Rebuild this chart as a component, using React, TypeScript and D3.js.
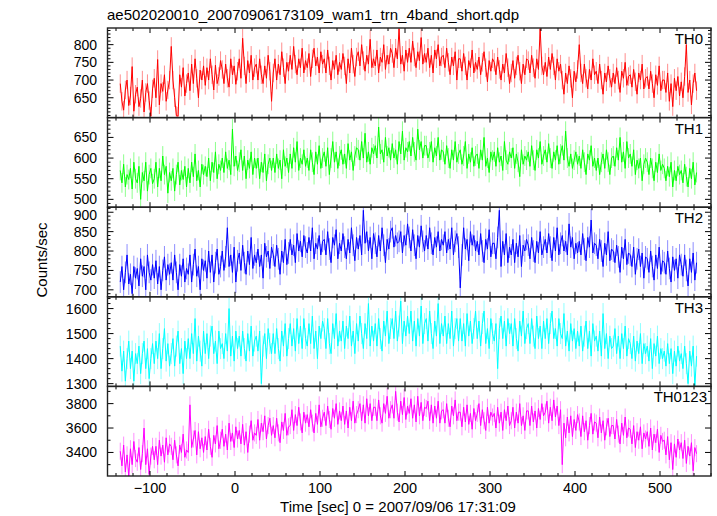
import React from "react";
import * as d3 from "d3";

const TITLE = "ae502020010_20070906173109_wam1_trn_4band_short.qdp";
const X_LABEL = "Time [sec] 0 = 2007/09/06 17:31:09";
const Y_LABEL = "Counts/sec";

// time grid: first bin and bin width (sec)
const T0 = -135;
const DT = 2;

const TH0 = [
  690, 640, 615, 672, 700, 628, 655, 738, 612, 660,
  680, 625, 648, 700, 610, 665, 690, 642, 598, 675,
  705, 650, 758, 630, 690, 668, 715, 640, 672, 700,
  795, 700, 650, 600, 598, 715, 680, 735, 655, 690,
  720, 670, 745, 690, 760, 705, 650, 728, 700, 740,
  685, 735, 700, 760, 715, 672, 742, 690, 710, 755,
  730, 690, 745, 705, 680, 760, 715, 740, 688, 725,
  760, 705, 818, 740, 690, 755, 720, 770, 700, 735,
  745, 700, 760, 715, 690, 740, 705, 770, 725, 640,
  720, 760, 700, 745, 715, 780, 735, 690, 750, 725,
  770, 730, 795, 745, 715, 760, 735, 790, 720, 755,
  735, 775, 710, 760, 790, 740, 765, 720, 780, 745,
  760, 720, 785, 740, 700, 755, 730, 770, 715, 750,
  730, 775, 740, 690, 760, 720, 790, 745, 710, 765,
  780, 740, 800, 755, 725, 770, 745, 815, 735, 760,
  740, 785, 720, 765, 750, 800, 730, 770, 745, 790,
  775, 735, 790, 760, 845, 745, 770, 725, 785, 750,
  790, 750, 810, 765, 735, 780, 755, 820, 745, 775,
  750, 790, 735, 770, 720, 785, 760, 800, 740, 765,
  770, 735, 790, 750, 715, 765, 740, 780, 700, 760,
  760, 725, 775, 740, 700, 755, 735, 785, 720, 750,
  730, 765, 715, 750, 780, 735, 695, 755, 725, 760,
  750, 715, 765, 730, 700, 745, 720, 775, 735, 690,
  720, 755, 705, 740, 770, 725, 690, 745, 715, 760,
  755, 720, 770, 735, 705, 760, 730, 845, 740, 715,
  750, 710, 765, 730, 775, 740, 700, 760, 725, 745,
  700, 660, 720, 690, 740, 705, 650, 725, 695, 730,
  800, 720, 690, 745, 705, 675, 730, 700, 760, 715,
  725, 690, 745, 700, 660, 720, 695, 740, 705, 680,
  720, 690, 735, 700, 665, 725, 705, 750, 685, 710,
  715, 680, 730, 695, 660, 720, 700, 745, 675, 705,
  710, 675, 725, 690, 650, 715, 685, 740, 670, 700,
  700, 665, 720, 640, 690, 625, 705, 670, 710, 655,
  695, 650, 710, 800, 665, 700, 630, 690, 720, 670,
];

const TH1 = [
  570, 540, 585, 530, 560, 548, 575, 525, 590, 550,
  540, 580, 500, 565, 545, 590, 520, 560, 575, 538,
  550, 590, 530, 575, 545, 605, 560, 580, 515, 565,
  545, 575, 520, 560, 590, 535, 570, 548, 580, 530,
  575, 540, 590, 555, 610, 545, 570, 530, 585, 560,
  580, 555, 600, 545, 590, 565, 615, 550, 585, 570,
  600, 565, 615, 575, 595, 560, 670, 580, 605, 570,
  590, 620, 570, 605, 550, 595, 575, 615, 560, 600,
  575, 600, 550, 590, 565, 610, 545, 585, 600, 570,
  600, 565, 610, 575, 595, 550, 620, 580, 600, 565,
  610, 575, 625, 590, 640, 570, 600, 585, 620, 580,
  600, 570, 620, 590, 560, 615, 585, 630, 575, 600,
  615, 580, 625, 560, 600, 640, 590, 615, 575, 605,
  620, 585, 610, 575, 635, 595, 615, 570, 605, 625,
  620, 595, 640, 600, 660, 590, 615, 585, 625, 610,
  630, 600, 675, 610, 620, 590, 650, 605, 625, 595,
  635, 600, 620, 585, 640, 610, 665, 595, 625, 615,
  640, 605, 650, 615, 595, 670, 620, 640, 600, 630,
  630, 600, 615, 640, 590, 625, 605, 650, 595, 620,
  615, 585, 630, 600, 575, 620, 595, 640, 590, 610,
  620, 585, 605, 640, 575, 610, 590, 625, 580, 605,
  610, 575, 620, 595, 650, 580, 600, 565, 615, 595,
  615, 580, 625, 590, 605, 570, 640, 595, 585, 615,
  600, 625, 575, 610, 590, 555, 620, 585, 605, 595,
  615, 580, 630, 595, 570, 620, 600, 640, 585, 605,
  620, 590, 635, 600, 575, 615, 595, 630, 585, 610,
  630, 595, 665, 600, 580, 610, 575, 595, 615, 585,
  605, 575, 620, 590, 560, 610, 595, 630, 580, 600,
  570, 600, 560, 590, 610, 575, 620, 590, 560, 600,
  605, 580, 625, 595, 650, 590, 615, 575, 640, 600,
  610, 580, 620, 560, 595, 575, 600, 545, 585, 600,
  590, 560, 600, 575, 545, 590, 565, 610, 570, 585,
  575, 545, 580, 555, 590, 530, 570, 545, 580, 560,
  570, 540, 585, 555, 530, 575, 550, 590, 535, 565,
];

const TH2 = [
  720, 760, 700, 745, 790, 715, 740, 690, 760, 730,
  755, 710, 780, 735, 760, 700, 790, 745, 725, 765,
  730, 775, 715, 760, 700, 750, 785, 725, 765, 740,
  770, 725, 790, 745, 700, 765, 735, 780, 720, 755,
  740, 790, 720, 765, 805, 735, 760, 700, 780, 750,
  775, 730, 800, 745, 790, 720, 770, 805, 740, 760,
  800, 750, 785, 860, 760, 790, 745, 810, 720, 775,
  795, 750, 815, 770, 740, 800, 765, 835, 755, 790,
  770, 805, 760, 790, 730, 820, 785, 800, 755, 810,
  790, 760, 815, 780, 740, 800, 770, 830, 765, 795,
  830, 790, 815, 770, 845, 800, 825, 785, 840, 810,
  795, 835, 800, 860, 780, 820, 805, 840, 790, 825,
  830, 790, 850, 805, 770, 835, 815, 855, 780, 820,
  800, 845, 810, 780, 830, 795, 860, 815, 775, 835,
  805, 840, 790, 905, 820, 850, 800, 835, 780, 845,
  820, 785, 840, 800, 860, 815, 770, 830, 805, 850,
  860, 810, 840, 820, 825, 850, 795, 840, 815, 870,
  835, 800, 855, 815, 780, 840, 810, 865, 825, 800,
  840, 805, 860, 820, 790, 835, 810, 850, 800, 830,
  815, 850, 795, 830, 805, 860, 790, 825, 845, 810,
  705, 790, 860, 805, 830, 775, 850, 815, 840, 800,
  825, 790, 845, 800, 770, 830, 805, 855, 785, 820,
  820, 780, 835, 905, 760, 825, 790, 845, 770, 810,
  790, 830, 770, 820, 785, 840, 760, 815, 800, 830,
  815, 780, 835, 800, 770, 825, 795, 850, 790, 810,
  830, 795, 845, 810, 775, 835, 800, 860, 790, 820,
  840, 800, 825, 790, 870, 810, 835, 780, 820, 795,
  825, 790, 845, 805, 775, 835, 810, 880, 795, 820,
  815, 780, 830, 800, 760, 820, 790, 850, 775, 805,
  800, 770, 815, 785, 745, 810, 780, 830, 765, 795,
  790, 760, 810, 740, 780, 805, 760, 795, 730, 785,
  780, 745, 800, 760, 725, 790, 755, 810, 740, 775,
  770, 740, 800, 755, 720, 785, 750, 780, 730, 790,
  765, 735, 790, 750, 710, 780, 745, 795, 725, 770,
];

const TH3 = [
  1450, 1350, 1430, 1310, 1400, 1470, 1360, 1430, 1310, 1420,
  1380, 1450, 1340, 1420, 1470, 1360, 1440, 1320, 1400, 1460,
  1380, 1470, 1400, 1500, 1360, 1440, 1520, 1390, 1460, 1370,
  1420, 1480, 1370, 1450, 1510, 1380, 1440, 1340, 1470, 1400,
  1480, 1400, 1500, 1420, 1560, 1390, 1490, 1430, 1370, 1510,
  1420, 1500, 1400, 1490, 1530, 1420, 1470, 1380, 1510, 1440,
  1460, 1400, 1500, 1430, 1600, 1410, 1490, 1390, 1510, 1440,
  1490, 1410, 1510, 1440, 1390, 1500, 1430, 1530, 1410, 1470,
  1490, 1430, 1510, 1300, 1450, 1500, 1400, 1520, 1460, 1420,
  1500, 1420, 1520, 1440, 1390, 1510, 1450, 1540, 1410, 1480,
  1540, 1450, 1520, 1430, 1560, 1460, 1530, 1440, 1560, 1480,
  1450, 1540, 1460, 1570, 1440, 1510, 1400, 1530, 1480, 1550,
  1520, 1440, 1560, 1460, 1420, 1540, 1480, 1580, 1450, 1510,
  1470, 1550, 1440, 1530, 1480, 1570, 1450, 1510, 1420, 1540,
  1470, 1570, 1500, 1440, 1540, 1480, 1620, 1450, 1530, 1470,
  1540, 1450, 1560, 1480, 1430, 1550, 1490, 1590, 1460, 1520,
  1560, 1480, 1590, 1470, 1530, 1630, 1460, 1550, 1490, 1570,
  1500, 1590, 1470, 1550, 1450, 1560, 1490, 1610, 1460, 1540,
  1560, 1470, 1590, 1500, 1440, 1550, 1490, 1620, 1460, 1540,
  1490, 1570, 1460, 1540, 1480, 1590, 1450, 1520, 1560, 1470,
  1560, 1470, 1540, 1450, 1580, 1490, 1550, 1460, 1520, 1590,
  1480, 1550, 1450, 1540, 1590, 1460, 1520, 1440, 1560, 1500,
  1470, 1540, 1360, 1520, 1570, 1480, 1550, 1450, 1560, 1500,
  1540, 1450, 1560, 1480, 1430, 1550, 1490, 1590, 1460, 1520,
  1540, 1460, 1560, 1490, 1440, 1570, 1480, 1530, 1440, 1550,
  1480, 1560, 1460, 1540, 1590, 1480, 1520, 1450, 1560, 1500,
  1480, 1580, 1450, 1510, 1430, 1540, 1470, 1520, 1440, 1510,
  1450, 1530, 1430, 1490, 1550, 1440, 1510, 1410, 1540, 1470,
  1490, 1430, 1510, 1410, 1580, 1440, 1500, 1400, 1490, 1440,
  1450, 1520, 1420, 1490, 1400, 1500, 1440, 1530, 1410, 1480,
  1460, 1400, 1490, 1390, 1470, 1420, 1500, 1380, 1460, 1420,
  1450, 1390, 1480, 1360, 1460, 1410, 1490, 1380, 1440, 1400,
  1430, 1370, 1460, 1380, 1440, 1340, 1430, 1370, 1450, 1390,
  1420, 1360, 1450, 1380, 1300, 1430, 1370, 1450, 1290, 1410,
];

const TH0123 = [
  3410, 3290, 3460, 3240, 3380, 3200, 3430, 3300, 3490, 3350,
  3320, 3440, 3260, 3390, 3600, 3300, 3430, 3220, 3370, 3450,
  3340, 3450, 3300, 3500, 3370, 3460, 3320, 3520, 3380, 3470,
  3450, 3340, 3500, 3380, 3290, 3460, 3400, 3550, 3360, 3420,
  3400, 3790, 3440, 3510, 3580, 3380, 3570, 3430, 3520, 3400,
  3530, 3420, 3590, 3450, 3360, 3540, 3470, 3620, 3430, 3500,
  3590, 3450, 3550, 3420, 3640, 3490, 3560, 3440, 3610, 3510,
  3580, 3470, 3630, 3460, 3570, 3400, 3550, 3660, 3500, 3560,
  3540, 3670, 3500, 3640, 3570, 3700, 3510, 3620, 3680, 3540,
  3620, 3520, 3680, 3560, 3480, 3650, 3580, 3720, 3540, 3610,
  3620, 3750, 3580, 3710, 3620, 3770, 3650, 3560, 3730, 3640,
  3710, 3610, 3750, 3640, 3560, 3720, 3630, 3790, 3610, 3680,
  3730, 3620, 3780, 3670, 3590, 3760, 3680, 3800, 3630, 3740,
  3660, 3780, 3630, 3740, 3600, 3770, 3660, 3820, 3640, 3710,
  3750, 3800, 3660, 3790, 3640, 3840, 3700, 3800, 3660, 3770,
  3770, 3660, 3830, 3700, 3640, 3800, 3720, 3860, 3680, 3750,
  3790, 3680, 3900, 3730, 3650, 3820, 3710, 3850, 3670, 3780,
  3720, 3840, 3680, 3790, 3650, 3860, 3700, 3810, 3660, 3770,
  3760, 3820, 3660, 3790, 3640, 3780, 3680, 3820, 3640, 3740,
  3750, 3640, 3800, 3680, 3610, 3780, 3700, 3830, 3660, 3730,
  3730, 3610, 3770, 3650, 3790, 3630, 3720, 3590, 3760, 3660,
  3720, 3800, 3620, 3750, 3660, 3580, 3770, 3640, 3730, 3690,
  3720, 3600, 3770, 3640, 3730, 3580, 3750, 3660, 3780, 3620,
  3660, 3770, 3600, 3730, 3640, 3800, 3620, 3700, 3580, 3740,
  3740, 3620, 3780, 3650, 3740, 3600, 3760, 3670, 3800, 3700,
  3730, 3820, 3640, 3770, 3660, 3830, 3690, 3780, 3620, 3750,
  3300, 3640, 3520, 3690, 3560, 3700, 3530, 3670, 3580, 3710,
  3650, 3530, 3700, 3570, 3660, 3500, 3620, 3720, 3550, 3650,
  3640, 3520, 3690, 3560, 3660, 3500, 3610, 3680, 3530, 3620,
  3620, 3510, 3670, 3550, 3470, 3640, 3540, 3690, 3520, 3600,
  3590, 3470, 3620, 3440, 3570, 3500, 3610, 3430, 3560, 3510,
  3570, 3450, 3600, 3420, 3550, 3480, 3590, 3400, 3540, 3490,
  3500, 3380, 3530, 3340, 3480, 3260, 3470, 3360, 3510, 3420,
  3480, 3350, 3500, 3310, 3450, 3370, 3480, 3250, 3440, 3390,
];

const SERIES_NAMES = ["TH0", "TH1", "TH2", "TH3", "TH0123"];
const SERIES_VALUES = [TH0, TH1, TH2, TH3, TH0123];
const SERIES_ERRORS = [26, 24, 28, 42, 70];
const SERIES_COLORS = ["#ff0000", "#00ff00", "#0000ff", "#00ffff", "#ff00ff"];
const Y_DOMAINS: [number, number][] = [
  [594, 847],
  [481, 698],
  [682, 913],
  [1289, 1647],
  [3207, 3941],
];
const Y_MAJOR = [
  [650, 700, 750, 800],
  [500, 550, 600, 650],
  [700, 750, 800, 850, 900],
  [1300, 1400, 1500, 1600],
  [3400, 3600, 3800],
];
const Y_MINOR_STEP = [10, 10, 10, 20, 100];
const X_DOMAIN: [number, number] = [-150, 560];
const X_MAJOR = [-100, 0, 100, 200, 300, 400, 500];
const X_MINOR_STEP = 20;

const W = 717;
const H = 516;
const LEFT = 107.5;
const RIGHT = 711;
const TOP = 28;
const BOTTOM = 476;
const FONT = "'Liberation Sans', Arial, Helvetica, sans-serif";

export default function App() {
  const n = SERIES_NAMES.length;
  const ph = (BOTTOM - TOP) / n;
  const x = d3.scaleLinear().domain(X_DOMAIN).range([LEFT, RIGHT]);
  const xMinor = d3.range(-140, 561, X_MINOR_STEP).filter((v) => !X_MAJOR.includes(v));
  const fmt = (v: number) => (v < 0 ? "\u2212" + Math.abs(v) : String(v));

  const panels = SERIES_NAMES.map((name, i) => {
    const top = TOP + i * ph;
    const bot = top + ph;
    const y = d3.scaleLinear().domain(Y_DOMAINS[i]).range([bot, top]);
    const vals = SERIES_VALUES[i];
    const pts = vals.map((v, k) => [T0 + k * DT, v] as [number, number]);
    const line = d3
      .line<[number, number]>()
      .x((d) => x(d[0]))
      .y((d) => y(d[1]));
    const err = SERIES_ERRORS[i];
    const [lo, hi] = Y_DOMAINS[i];
    const step = Y_MINOR_STEP[i];
    const minors = d3
      .range(Math.ceil(lo / step) * step, hi, step)
      .filter((v) => !Y_MAJOR[i].includes(v));
    const color = SERIES_COLORS[i];
    const errPath = pts
      .map((d) => `M${x(d[0]).toFixed(2)},${y(d[1] - err).toFixed(2)}V${y(d[1] + err).toFixed(2)}`)
      .join("");
    return (
      <g key={name}>
        <clipPath id={`clip${i}`}>
          <rect x={LEFT} y={top} width={RIGHT - LEFT} height={ph} />
        </clipPath>
        <g clipPath={`url(#clip${i})`}>
          <path d={errPath} stroke={color} strokeOpacity={0.45} strokeWidth={1} fill="none" />
          <path d={line(pts) || ""} stroke={color} strokeWidth={1} fill="none" />
        </g>
        {Y_MAJOR[i].map((v) => (
          <g key={"M" + v}>
            <line x1={LEFT} x2={LEFT + 6} y1={y(v)} y2={y(v)} stroke="#000" strokeWidth={1} />
            <line x1={RIGHT} x2={RIGHT - 6} y1={y(v)} y2={y(v)} stroke="#000" strokeWidth={1} />
            <text
              x={97}
              y={Math.max(y(v) + 5, top + 12.3)}
              textAnchor="end"
              fontSize={14}
              fontFamily={FONT}
              fill="#000"
            >
              {v}
            </text>
          </g>
        ))}
        {minors.map((v) => (
          <g key={"m" + v}>
            <line x1={LEFT} x2={LEFT + 3} y1={y(v)} y2={y(v)} stroke="#000" strokeWidth={1} />
            <line x1={RIGHT} x2={RIGHT - 3} y1={y(v)} y2={y(v)} stroke="#000" strokeWidth={1} />
          </g>
        ))}
        {X_MAJOR.map((v) => (
          <g key={"xM" + v}>
            <line x1={x(v)} x2={x(v)} y1={top} y2={top + 5} stroke="#000" strokeWidth={1} />
            <line x1={x(v)} x2={x(v)} y1={bot} y2={bot - 5} stroke="#000" strokeWidth={1} />
          </g>
        ))}
        {xMinor.map((v) => (
          <g key={"xm" + v}>
            <line x1={x(v)} x2={x(v)} y1={top} y2={top + 3} stroke="#000" strokeWidth={1} />
            <line x1={x(v)} x2={x(v)} y1={bot} y2={bot - 3} stroke="#000" strokeWidth={1} />
          </g>
        ))}
        <text
          x={i === n - 1 ? 707 : 703}
          y={top + 16}
          textAnchor="end"
          fontSize={15}
          fontFamily={FONT}
          fill="#000"
        >
          {name}
        </text>
        <rect x={LEFT} y={top} width={RIGHT - LEFT} height={ph} fill="none" stroke="#222" strokeWidth={1.4} />
      </g>
    );
  });

  return (
    <svg
      width={W}
      height={H}
      style={{ position: "absolute", left: 0, top: 0, background: "#fff" }}
    >
      <rect x={0} y={0} width={W} height={H} fill="#fff" />
      <text x={107} y={20} fontSize={15} fontFamily={FONT} fill="#000">
        {TITLE}
      </text>
      {panels}
      {X_MAJOR.map((v) => (
        <text
          key={"xl" + v}
          x={x(v)}
          y={493}
          textAnchor="middle"
          fontSize={14.5}
          fontFamily={FONT}
          fill="#000"
        >
          {fmt(v)}
        </text>
      ))}
      <text x={398} y={512} textAnchor="middle" fontSize={15} fontFamily={FONT} fill="#000">
        {X_LABEL}
      </text>
      <text
        transform={`translate(47,260) rotate(-90)`}
        textAnchor="middle"
        fontSize={15}
        fontFamily={FONT}
        fill="#000"
      >
        {Y_LABEL}
      </text>
    </svg>
  );
}
